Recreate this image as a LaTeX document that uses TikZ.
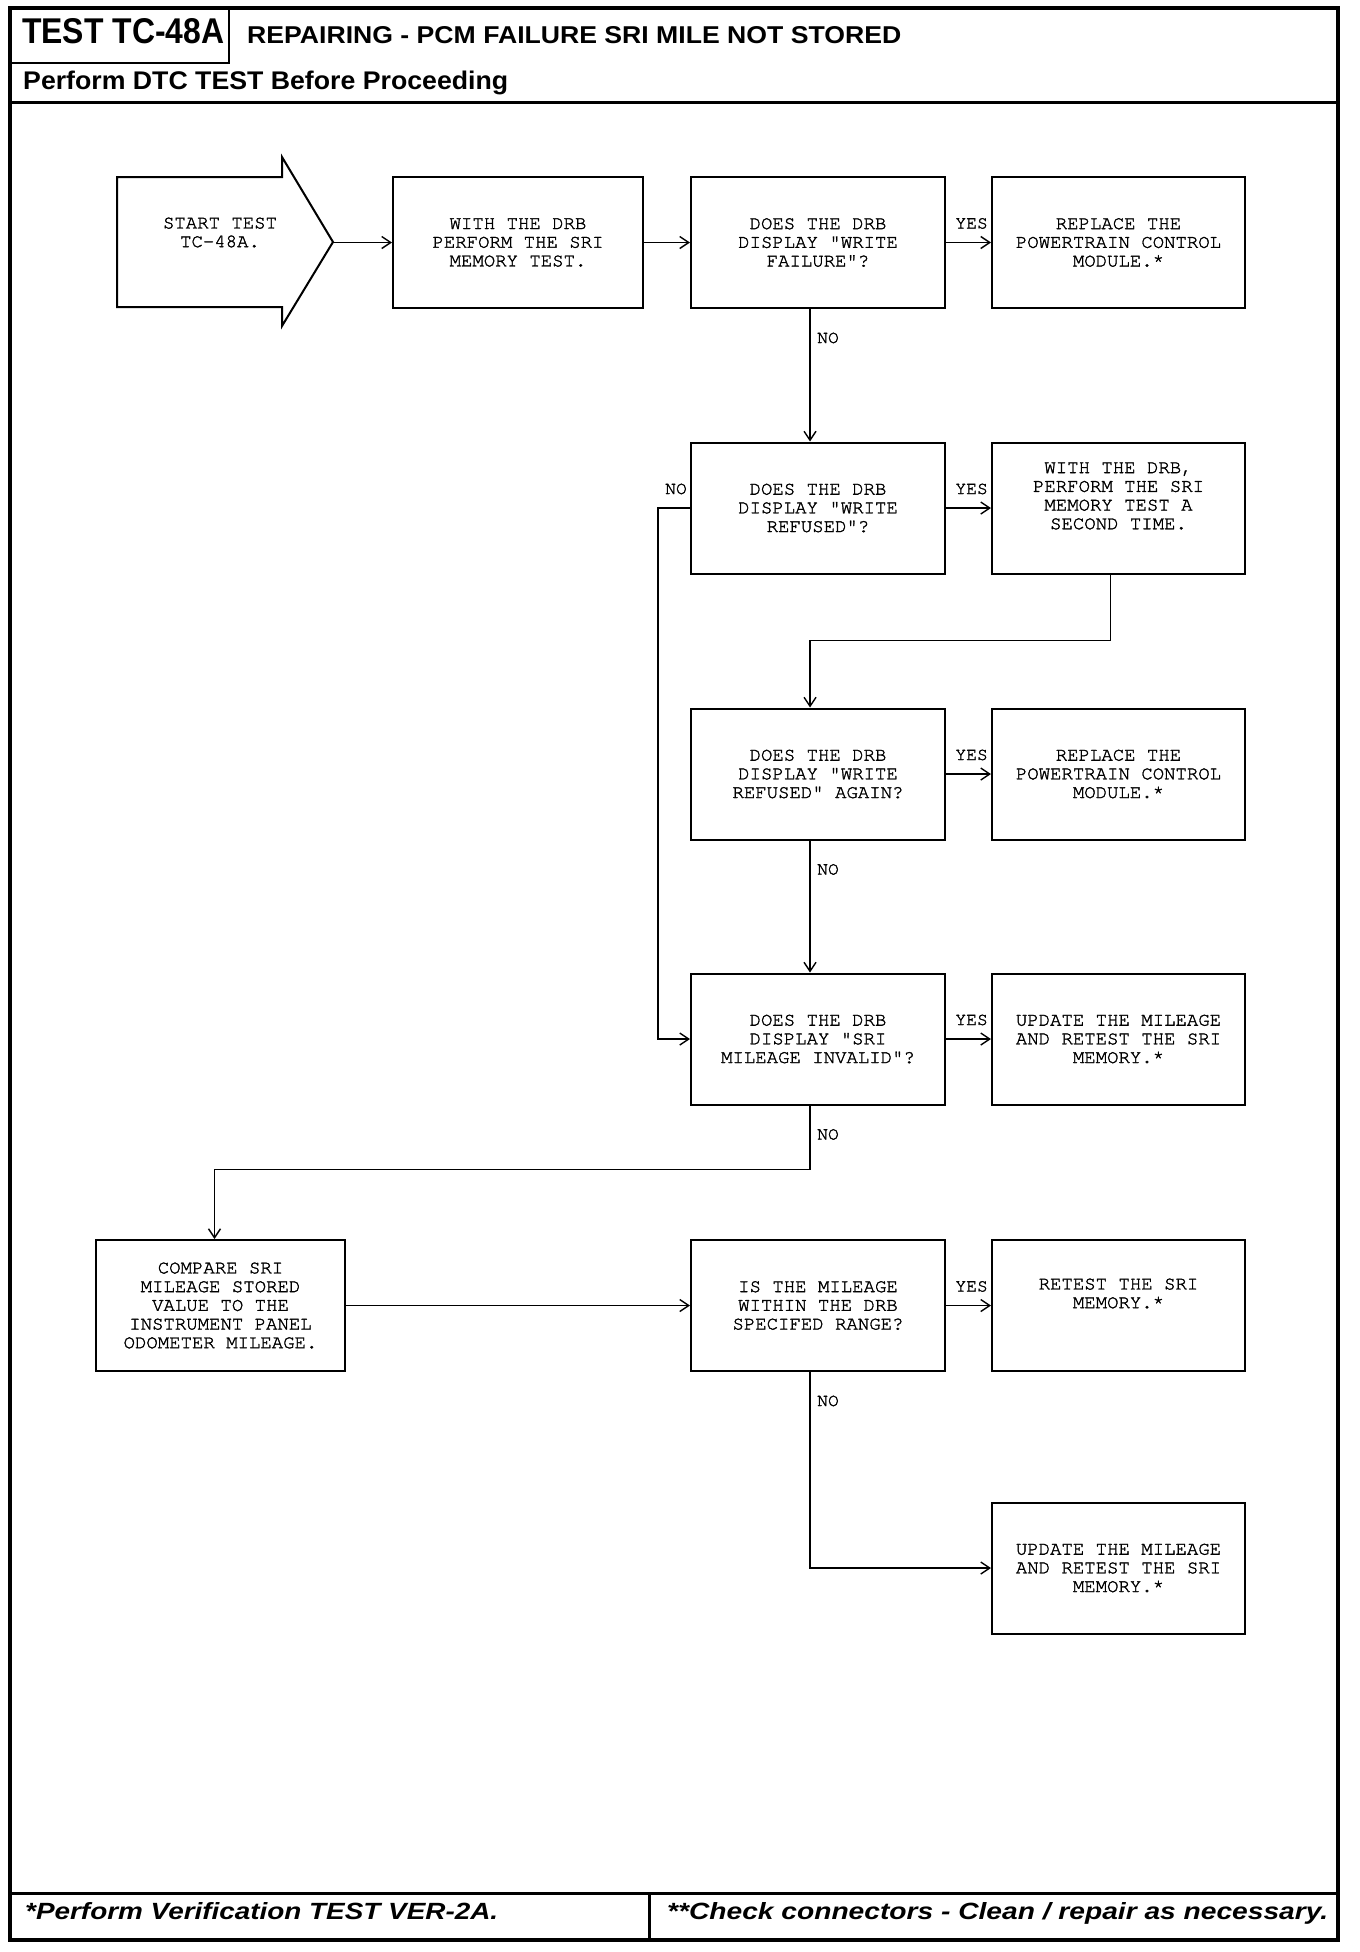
\documentclass[tikz,border=0pt]{standalone}
\usepackage{fontspec}
\usepackage{graphicx}
\setmainfont{Liberation Sans}
\newfontfamily\boxfont[FakeBold=1.6]{texgyrecursor-regular.otf}
\usetikzlibrary{arrows.meta,calc}
\begin{document}
\begin{tikzpicture}[x=1pt,y=-1pt,
  fbox/.style={draw,line width=2pt,minimum width=253pt,minimum height=131pt,inner sep=2pt,align=center,font=\boxfont\fontsize{19}{18.7}\selectfont},
  txt/.style={inner sep=0pt,align=center,font=\boxfont\fontsize{19}{18.7}\selectfont},
  lbl/.style={inner sep=0pt,font=\boxfont\fontsize{18}{18}\selectfont},
  conn/.style={line width=1.4pt,-{Straight Barb[length=9pt,width=12pt]}},
  frameline/.style={line width=3.5pt},
  hdr/.style={inner sep=0pt,anchor=base west},
]
\useasboundingbox (0,0) rectangle (1360,1952);
\fill[white] (0,0) rectangle (1360,1952);

% frame and header / footer
\draw[frameline] (10,8) rectangle (1338,1940);
\draw[line width=2.5pt] (229,8) -- (229,63) -- (10,63);
\draw[line width=3pt] (10,102) -- (1338,102);
\draw[line width=3pt] (10,1893) -- (1338,1893);
\draw[line width=3pt] (649,1893) -- (649,1940);

\node[hdr] (t1) at (22,43) {\resizebox{202pt}{25pt}{\bfseries TEST TC-48A}};
\node[hdr] (t2) at (247,43) {\resizebox{654pt}{17pt}{\bfseries REPAIRING - PCM FAILURE SRI MILE NOT STORED}};
\node[hdr] (t3) at (23,89) {\resizebox{485pt}{18.5pt}{\bfseries Perform DTC TEST Before Proceeding}};
\node[hdr] (f1) at (25,1919) {\resizebox{473pt}{17pt}{\bfseries\itshape *Perform Verification TEST VER-2A.}};
\node[hdr] (f2) at (667,1919) {\resizebox{661pt}{17pt}{\bfseries\itshape **Check connectors - Clean / repair as necessary.}};

% start arrow
\draw[line width=2pt] (117,177) -- (282,177) -- (282,157) -- (333,242) -- (282,326) -- (282,307) -- (117,307) -- cycle;
\node[txt] (start) at (220,232.5) {START TEST\\TC-48A.};
\coordinate (starttip) at (333,242.5);

% boxes
\node[fbox,minimum width=250pt] (b1) at (518,242.5) {WITH THE DRB\\PERFORM THE SRI\\MEMORY TEST.};
\node[fbox,minimum width=254pt] (c1) at (818,242.5) {DOES THE DRB\\DISPLAY "WRITE\\FAILURE"?};
\node[fbox] (d1) at (1118.5,242.5) {REPLACE THE\\POWERTRAIN CONTROL\\MODULE.*};

\node[fbox,minimum width=254pt] (c2) at (818,508) {DOES THE DRB\\DISPLAY "WRITE\\REFUSED"?};
\node[fbox] (d2) at (1118.5,508) {WITH THE DRB,\\PERFORM THE SRI\\MEMORY TEST A\\SECOND TIME.\\ \strut};

\node[fbox,minimum width=254pt] (c3) at (818,774) {DOES THE DRB\\DISPLAY "WRITE\\REFUSED" AGAIN?};
\node[fbox] (d3) at (1118.5,774) {REPLACE THE\\POWERTRAIN CONTROL\\MODULE.*};

\node[fbox,minimum width=254pt] (c4) at (818,1039) {DOES THE DRB\\DISPLAY "SRI\\MILEAGE INVALID"?};
\node[fbox] (d4) at (1118.5,1039) {UPDATE THE MILEAGE\\AND RETEST THE SRI\\MEMORY.*};

\node[fbox,minimum width=249pt] (cmp) at (220.5,1305.5) {COMPARE SRI\\MILEAGE STORED\\VALUE TO THE\\INSTRUMENT PANEL\\ODOMETER MILEAGE.};
\node[fbox,minimum width=254pt] (c5) at (818,1305.5) {IS THE MILEAGE\\WITHIN THE DRB\\SPECIFED RANGE?};
\node[fbox] (d5) at (1118.5,1305.5) {RETEST THE SRI\\MEMORY.*\\ \strut};

\node[fbox] (d6) at (1118.5,1568) {UPDATE THE MILEAGE\\AND RETEST THE SRI\\MEMORY.*};

% connectors
\draw[conn] (starttip) -- (b1.west);
\draw[conn] (b1.east) -- (c1.west);
\draw[conn] (c1.east) -- (d1.west);
\draw[conn] ([xshift=-8pt]c1.south) -- ([xshift=-8pt]c2.north);
\draw[conn] (c2.east) -- (d2.west);
\draw[conn] ([xshift=-8pt]d2.south) -- ++(0,66) -| ([xshift=-8pt]c3.north);
\draw[conn] (c2.west) -- ++(-32,0) |- (c4.west);
\draw[conn] (c3.east) -- (d3.west);
\draw[conn] ([xshift=-8pt]c3.south) -- ([xshift=-8pt]c4.north);
\draw[conn] (c4.east) -- (d4.west);
\draw[conn] ([xshift=-8pt]c4.south) -- ++(0,64) -| ([xshift=-6pt]cmp.north);
\draw[conn] (cmp.east) -- (c5.west);
\draw[conn] (c5.east) -- (d5.west);
\draw[conn] ([xshift=-8pt]c5.south) |- (d6.west);

% labels
\node[lbl,anchor=base east] (y1) at ([xshift=-3pt,yshift=14pt]d1.west) {YES};
\node[lbl,anchor=base east] (y2) at ([xshift=-3pt,yshift=14pt]d2.west) {YES};
\node[lbl,anchor=base east] (y3) at ([xshift=-3pt,yshift=14pt]d3.west) {YES};
\node[lbl,anchor=base east] (y4) at ([xshift=-3pt,yshift=14pt]d4.west) {YES};
\node[lbl,anchor=base east] (y5) at ([xshift=-3pt,yshift=14pt]d5.west) {YES};
\node[lbl,anchor=base west] (n1) at ([xshift=-1pt,yshift=-34pt]c1.south) {NO};
\node[lbl,anchor=base east] (n2) at ([xshift=-3pt,yshift=14pt]c2.west) {NO};
\node[lbl,anchor=base west] (n3) at ([xshift=-1pt,yshift=-34pt]c3.south) {NO};
\node[lbl,anchor=base west] (n4) at ([xshift=-1pt,yshift=-34pt]c4.south) {NO};
\node[lbl,anchor=base west] (n5) at ([xshift=-1pt,yshift=-34pt]c5.south) {NO};
\end{tikzpicture}
\end{document}
